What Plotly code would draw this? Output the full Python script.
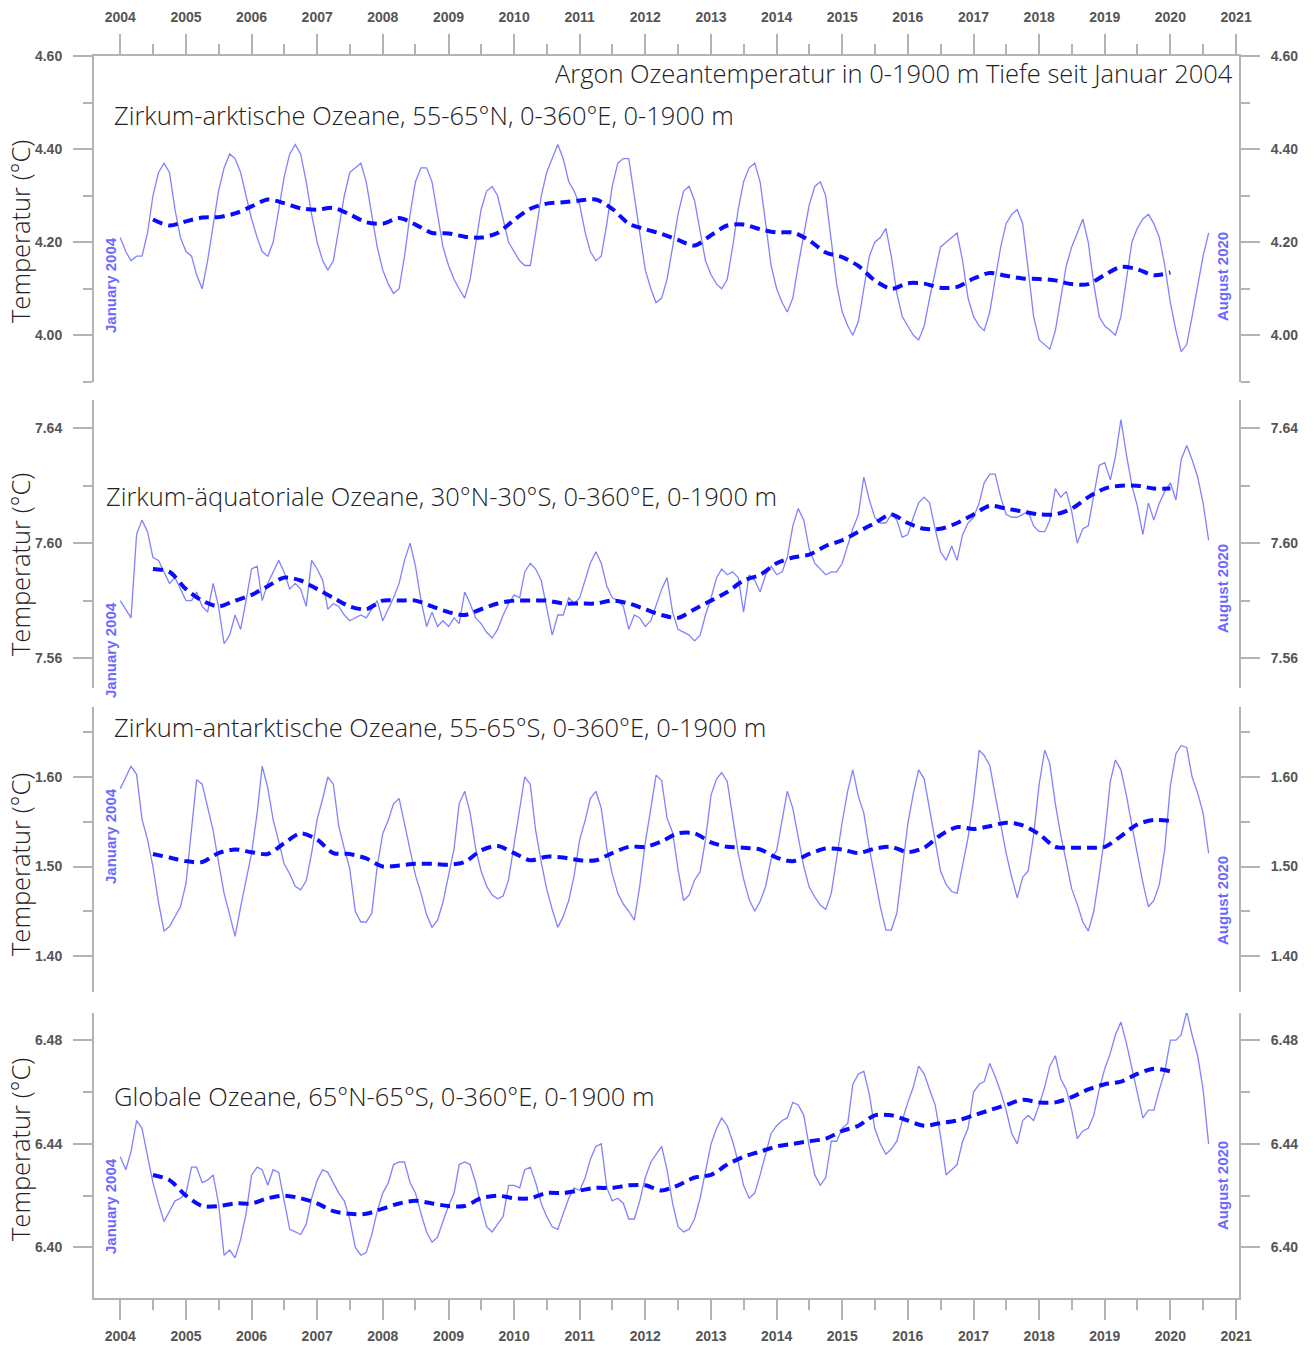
import pandas as pd
import plotly.graph_objects as go

# ---------------- data: monthly means Jan 2004 - Aug 2020 (°C) ----------------
arctic_monthly = [
    4.21, 4.18, 4.16, 4.17, 4.17, 4.22, 4.30, 4.35, 4.37, 4.35, 4.27, 4.21,
    4.18, 4.17, 4.13, 4.10, 4.16, 4.24, 4.31, 4.36, 4.39, 4.38, 4.35, 4.30,
    4.25, 4.21, 4.18, 4.17, 4.20, 4.27, 4.34, 4.39, 4.41, 4.39, 4.33, 4.26,
    4.20, 4.16, 4.14, 4.16, 4.23, 4.30, 4.35, 4.36, 4.37, 4.33, 4.26, 4.19,
    4.14, 4.11, 4.09, 4.10, 4.17, 4.26, 4.33, 4.36, 4.36, 4.33, 4.26, 4.19,
    4.15, 4.12, 4.10, 4.08, 4.12, 4.20, 4.27, 4.31, 4.32, 4.30, 4.25, 4.20,
    4.18, 4.16, 4.15, 4.15, 4.22, 4.30, 4.35, 4.38, 4.41, 4.38, 4.33, 4.31,
    4.28, 4.22, 4.18, 4.16, 4.17, 4.24, 4.32, 4.37, 4.38, 4.38, 4.30, 4.22,
    4.14, 4.10, 4.07, 4.08, 4.12, 4.19, 4.26, 4.31, 4.32, 4.29, 4.22, 4.16,
    4.13, 4.11, 4.10, 4.12, 4.19, 4.27, 4.33, 4.36, 4.37, 4.33, 4.24, 4.15,
    4.10, 4.07, 4.05, 4.08, 4.15, 4.22, 4.28, 4.32, 4.33, 4.30, 4.20, 4.11,
    4.05, 4.02, 4.00, 4.03, 4.10, 4.17, 4.20, 4.21, 4.23, 4.17, 4.09, 4.04,
    4.02, 4.00, 3.99, 4.02, 4.08, 4.14, 4.19, 4.20, 4.21, 4.22, 4.16, 4.08,
    4.04, 4.02, 4.01, 4.05, 4.12, 4.19, 4.24, 4.26, 4.27, 4.24, 4.14, 4.04,
    3.99, 3.98, 3.97, 4.01, 4.08, 4.15, 4.19, 4.22, 4.25, 4.20, 4.11, 4.04,
    4.02, 4.01, 4.00, 4.04, 4.12, 4.20, 4.23, 4.25, 4.26, 4.24, 4.21, 4.15,
    4.07, 4.01, 3.965, 3.98, 4.04, 4.11, 4.17, 4.22,
]

equatorial_monthly = [
    7.580, 7.577, 7.574, 7.603, 7.608, 7.604, 7.595, 7.594, 7.590, 7.586, 7.588, 7.584,
    7.580, 7.580, 7.583, 7.578, 7.576, 7.586, 7.578, 7.565, 7.568, 7.575, 7.570, 7.580,
    7.591, 7.592, 7.580, 7.586, 7.590, 7.594, 7.590, 7.584, 7.586, 7.584, 7.578, 7.594,
    7.591, 7.587, 7.577, 7.579, 7.578, 7.575, 7.573, 7.574, 7.575, 7.574, 7.577, 7.580,
    7.573, 7.577, 7.581, 7.586, 7.594, 7.600, 7.592, 7.580, 7.571, 7.576, 7.571, 7.573,
    7.571, 7.574, 7.572, 7.583, 7.579, 7.574, 7.572, 7.569, 7.567, 7.570, 7.575, 7.579,
    7.582, 7.581, 7.590, 7.593, 7.591, 7.587, 7.578, 7.568, 7.575, 7.575, 7.581, 7.579,
    7.581, 7.587, 7.593, 7.597, 7.593, 7.585, 7.581, 7.580, 7.578, 7.570, 7.575, 7.574,
    7.571, 7.573, 7.578, 7.584, 7.588, 7.576, 7.570, 7.569, 7.568, 7.566, 7.568, 7.575,
    7.581, 7.588, 7.591, 7.589, 7.590, 7.588, 7.576, 7.589, 7.587, 7.583, 7.589, 7.592,
    7.589, 7.590, 7.595, 7.606, 7.612, 7.608, 7.598, 7.593, 7.591, 7.589, 7.590, 7.590,
    7.593, 7.599, 7.605, 7.610, 7.623, 7.615, 7.609, 7.607, 7.607, 7.610, 7.608, 7.602,
    7.603, 7.609, 7.614, 7.616, 7.614, 7.605, 7.597, 7.594, 7.599, 7.594, 7.603, 7.607,
    7.609, 7.614, 7.621, 7.624, 7.624, 7.616, 7.610, 7.609, 7.609, 7.610, 7.611, 7.606,
    7.604, 7.604, 7.608, 7.619, 7.616, 7.618, 7.611, 7.600, 7.605, 7.606, 7.616, 7.627,
    7.628, 7.622, 7.630, 7.643, 7.631, 7.620, 7.613, 7.603, 7.614, 7.608, 7.614, 7.618,
    7.621, 7.615, 7.629, 7.634, 7.629, 7.623, 7.614, 7.601,
]

antarctic_monthly = [
    1.587, 1.600, 1.612, 1.603, 1.553, 1.530, 1.500, 1.460, 1.428, 1.433, 1.445, 1.455,
    1.481, 1.545, 1.597, 1.592, 1.565, 1.540, 1.505, 1.470, 1.446, 1.422, 1.455, 1.485,
    1.515, 1.560, 1.612, 1.588, 1.552, 1.528, 1.503, 1.492, 1.478, 1.474, 1.484, 1.515,
    1.553, 1.576, 1.600, 1.592, 1.545, 1.520, 1.498, 1.450, 1.438, 1.438, 1.448, 1.500,
    1.537, 1.552, 1.570, 1.576, 1.548, 1.518, 1.490, 1.470, 1.446, 1.432, 1.440, 1.460,
    1.490, 1.520, 1.570, 1.584, 1.560, 1.520, 1.495, 1.478, 1.468, 1.464, 1.467, 1.485,
    1.525, 1.567, 1.600, 1.592, 1.540, 1.505, 1.475, 1.452, 1.432, 1.444, 1.462, 1.490,
    1.530, 1.552, 1.576, 1.584, 1.565, 1.520, 1.492, 1.470, 1.458, 1.450, 1.440, 1.478,
    1.527, 1.565, 1.602, 1.596, 1.554, 1.538, 1.497, 1.462, 1.468, 1.485, 1.494, 1.530,
    1.580, 1.598, 1.605, 1.595, 1.555, 1.515, 1.486, 1.463, 1.450, 1.461, 1.478, 1.508,
    1.518, 1.551, 1.584, 1.565, 1.533, 1.500, 1.477, 1.466, 1.457, 1.452, 1.470, 1.510,
    1.550, 1.585, 1.608, 1.578, 1.560, 1.520, 1.490, 1.455, 1.429, 1.429, 1.448, 1.496,
    1.548, 1.582, 1.608, 1.598, 1.565, 1.530, 1.495, 1.480, 1.472, 1.470, 1.502, 1.532,
    1.575, 1.630, 1.624, 1.613, 1.580, 1.545, 1.515, 1.488, 1.465, 1.488, 1.495, 1.535,
    1.592, 1.630, 1.615, 1.570, 1.535, 1.505, 1.475, 1.458, 1.438, 1.428, 1.450, 1.490,
    1.535, 1.595, 1.619, 1.608, 1.580, 1.546, 1.514, 1.482, 1.455, 1.462, 1.480, 1.520,
    1.590, 1.626, 1.635, 1.633, 1.600, 1.582, 1.560, 1.515,
]

global_monthly = [
    6.435, 6.430, 6.437, 6.449, 6.446, 6.436, 6.425, 6.417, 6.410, 6.414, 6.418, 6.419,
    6.421, 6.431, 6.431, 6.425, 6.426, 6.428, 6.417, 6.397, 6.399, 6.396, 6.403, 6.413,
    6.428, 6.431, 6.430, 6.424, 6.430, 6.429, 6.418, 6.407, 6.406, 6.405, 6.409, 6.419,
    6.426, 6.430, 6.429, 6.425, 6.421, 6.418, 6.411, 6.400, 6.397, 6.398, 6.405, 6.414,
    6.421, 6.425, 6.432, 6.433, 6.433, 6.425, 6.421, 6.413, 6.406, 6.402, 6.404, 6.410,
    6.416, 6.421, 6.432, 6.433, 6.432, 6.425, 6.416, 6.408, 6.406, 6.409, 6.412, 6.424,
    6.424, 6.423, 6.430, 6.431, 6.425, 6.417, 6.412, 6.408, 6.407, 6.413, 6.419, 6.423,
    6.422, 6.427, 6.434, 6.439, 6.440, 6.423, 6.418, 6.419, 6.417, 6.411, 6.411, 6.418,
    6.427, 6.433, 6.436, 6.439, 6.430, 6.417, 6.408, 6.406, 6.407, 6.411, 6.419, 6.430,
    6.440, 6.446, 6.450, 6.447, 6.441, 6.433, 6.424, 6.419, 6.421, 6.428, 6.436, 6.444,
    6.447, 6.449, 6.450, 6.456, 6.455, 6.451, 6.439, 6.428, 6.424, 6.427, 6.441, 6.441,
    6.446, 6.448, 6.463, 6.467, 6.468, 6.459, 6.446, 6.440, 6.436, 6.438, 6.441, 6.449,
    6.456, 6.462, 6.470, 6.467, 6.461, 6.455, 6.443, 6.428, 6.430, 6.432, 6.441, 6.446,
    6.460, 6.463, 6.464, 6.471, 6.466, 6.460, 6.453, 6.444, 6.440, 6.449, 6.451, 6.449,
    6.455, 6.462, 6.470, 6.474, 6.465, 6.461, 6.453, 6.442, 6.445, 6.446, 6.451, 6.461,
    6.469, 6.475, 6.482, 6.487, 6.479, 6.469, 6.460, 6.450, 6.453, 6.453, 6.461, 6.468,
    6.480, 6.480, 6.482, 6.491, 6.482, 6.474, 6.461, 6.440,
]

# ---------------- data: 12-month running means, sampled quarterly Jul 2004 - Jan 2020 ----------------
arctic_trend = [
    4.249, 4.236, 4.245, 4.253, 4.254, 4.262, 4.277, 4.292, 4.284, 4.273, 4.270, 4.274,
    4.260, 4.243, 4.240, 4.252, 4.238, 4.220, 4.219, 4.212, 4.210, 4.220, 4.248, 4.272,
    4.283, 4.286, 4.290, 4.292, 4.272, 4.240, 4.228, 4.218, 4.205, 4.193, 4.215, 4.236,
    4.238, 4.228, 4.221, 4.221, 4.204, 4.178, 4.168, 4.149, 4.118, 4.100, 4.112, 4.111,
    4.102, 4.104, 4.122, 4.134, 4.128, 4.122, 4.121, 4.118, 4.110, 4.110, 4.130, 4.147,
    4.142, 4.129, 4.135,
]

equatorial_trend = [
    7.591, 7.590, 7.584, 7.580, 7.578, 7.580, 7.582, 7.585, 7.588, 7.587, 7.584, 7.581,
    7.578, 7.577, 7.580, 7.580, 7.580, 7.578, 7.576, 7.575, 7.577, 7.579, 7.580, 7.580,
    7.580, 7.579, 7.579, 7.579, 7.580, 7.579, 7.577, 7.575, 7.574, 7.577, 7.580, 7.583,
    7.587, 7.589, 7.593, 7.595, 7.596, 7.599, 7.601, 7.604, 7.607, 7.610, 7.607, 7.605,
    7.605, 7.607, 7.610, 7.613, 7.612, 7.611, 7.610, 7.610, 7.612, 7.616, 7.619, 7.620,
    7.620, 7.619, 7.619,
]

antarctic_trend = [
    1.514, 1.510, 1.506, 1.505, 1.515, 1.519, 1.516, 1.514, 1.526, 1.537, 1.530, 1.515,
    1.514, 1.509, 1.500, 1.501, 1.503, 1.503, 1.502, 1.505, 1.518, 1.523, 1.515, 1.507,
    1.511, 1.510, 1.507, 1.507, 1.515, 1.522, 1.522, 1.528, 1.537, 1.537, 1.527, 1.522,
    1.521, 1.519, 1.510, 1.506, 1.514, 1.520, 1.519, 1.515, 1.520, 1.522, 1.516, 1.521,
    1.535, 1.544, 1.542, 1.545, 1.549, 1.546, 1.536, 1.522, 1.521, 1.521, 1.522, 1.534,
    1.547, 1.552, 1.551,
]

global_trend = [
    6.428, 6.426, 6.420, 6.416, 6.416, 6.417, 6.417, 6.419, 6.420, 6.419, 6.417, 6.414,
    6.413, 6.413, 6.415, 6.417, 6.418, 6.417, 6.416, 6.416, 6.419, 6.420, 6.419, 6.419,
    6.421, 6.421, 6.422, 6.423, 6.423, 6.424, 6.424, 6.422, 6.424, 6.427, 6.428, 6.432,
    6.435, 6.437, 6.439, 6.440, 6.441, 6.442, 6.445, 6.447, 6.451, 6.451, 6.449, 6.447,
    6.448, 6.449, 6.451, 6.453, 6.455, 6.457, 6.456, 6.456, 6.458, 6.461, 6.463, 6.464,
    6.467, 6.469, 6.468,
]

panel_titles = [
    "Zirkum-arktische Ozeane, 55-65°N, 0-360°E, 0-1900 m",
    "Zirkum-äquatoriale Ozeane, 30°N-30°S, 0-360°E, 0-1900 m",
    "Zirkum-antarktische Ozeane, 55-65°S, 0-360°E, 0-1900 m",
    "Globale Ozeane, 65°N-65°S, 0-360°E, 0-1900 m",
]
main_title = "Argon Ozeantemperatur in 0-1900 m Tiefe seit Januar 2004"
y_title = "Temperatur (°C)"
start_label = "January 2004"
end_label = "August 2020"

monthly_dates = pd.date_range("2004-01-01", periods=len(arctic_monthly), freq="MS")
trend_dates = pd.date_range("2004-07-01", periods=len(arctic_trend), freq="3MS")

# ---------------- layout geometry (pixels) ----------------
W, H = 1315, 1345
ML, MR, MT, MB = 94, 76, 56, 47
PW, PH = W - ML - MR, H - MT - MB


def px(x):
    return (x - ML) / PW


def py(y):
    return (H - MB - y) / PH


panel_px = [(56, 382), (400, 688), (707, 992), (1013, 1298)]
y_ranges = [[3.8995, 4.6005], [7.5496, 7.6498], [1.3598, 1.6782], [6.3805, 6.4905]]
y_tick0 = [4.0, 7.56, 1.4, 6.40]
y_dtick = [0.2, 0.04, 0.1, 0.04]
y_minor = [0.1, 0.02, 0.05, 0.02]

AXIS_GREY = "#b3b3b3"
TICK_FONT = dict(family="Arial", size=14, color="#555555", weight="bold")
LINE_COLOR = "#8282ff"
TREND_COLOR = "#0a0aff"
LABEL_BLUE = "#6a6aff"

monthly_series = [arctic_monthly, equatorial_monthly, antarctic_monthly, global_monthly]
trend_series = [arctic_trend, equatorial_trend, antarctic_trend, global_trend]

fig = go.Figure()

for i in range(4):
    left_axis = "y" if i == 0 else f"y{i + 1}"
    right_axis = f"y{i + 5}"
    fig.add_trace(go.Scatter(
        x=monthly_dates, y=monthly_series[i], mode="lines",
        line=dict(color=LINE_COLOR, width=1.3),
        xaxis="x", yaxis=left_axis, hoverinfo="skip",
    ))
    fig.add_trace(go.Scatter(
        x=trend_dates, y=trend_series[i], mode="lines",
        line=dict(color=TREND_COLOR, width=4, dash="10px,6px", shape="spline", smoothing=0.8),
        xaxis="x2" if i == 0 else "x", yaxis=right_axis, hoverinfo="skip",
    ))

x_range = ["2003-08-08", "2021-01-17"]
x_common = dict(
    range=x_range, type="date", showgrid=False, zeroline=False, automargin=False,
    showline=True, linecolor=AXIS_GREY, linewidth=2,
    ticks="outside", ticklen=20, tickwidth=2, tickcolor=AXIS_GREY,
    dtick="M12", tick0="2004-01-01", tickformat="%Y",
    minor=dict(ticks="outside", ticklen=10, tickwidth=2, tickcolor=AXIS_GREY,
               dtick="M6", tick0="2004-01-01", showgrid=False),
    tickfont=TICK_FONT,
)

layout = dict(
    width=W, height=H,
    margin=dict(l=ML, r=MR, t=MT, b=MB, autoexpand=False),
    paper_bgcolor="white", plot_bgcolor="white",
    showlegend=False,
    xaxis=dict(domain=[0, 1], anchor="y4", side="bottom", ticklabelstandoff=4, **x_common),
    xaxis2=dict(overlaying="x", anchor="y5", side="top", ticklabelstandoff=6, **x_common),
)

for i in range(4):
    top, bottom = panel_px[i]
    y_common = dict(
        range=y_ranges[i], showgrid=False, zeroline=False, automargin=False,
        showline=True, linecolor=AXIS_GREY, linewidth=2,
        ticks="outside", ticklen=19, tickwidth=2, tickcolor=AXIS_GREY,
        tick0=y_tick0[i], dtick=y_dtick[i], tickformat=".2f",
        minor=dict(ticks="outside", ticklen=9, tickwidth=2, tickcolor=AXIS_GREY,
                   tick0=y_tick0[i], dtick=y_minor[i], showgrid=False),
        tickfont=TICK_FONT, ticklabelstandoff=8,
    )
    left_name = "yaxis" if i == 0 else f"yaxis{i + 1}"
    left_ref = "y" if i == 0 else f"y{i + 1}"
    layout[left_name] = dict(domain=[py(bottom), py(top)], anchor="x", side="left", **y_common)
    layout[f"yaxis{i + 5}"] = dict(overlaying=left_ref, anchor="x2" if i == 0 else "x",
                                   side="right", **y_common)

fig.update_layout(**layout)

# ---------------- texts ----------------
light_font = dict(family="Open Sans", size=25.5, color="#222222", weight=300)
label_font = dict(family="Arial", size=15, color=LABEL_BLUE, weight="bold")

annotations = [dict(
    text=main_title, x=px(1235), y=py(73), xref="paper", yref="paper",
    xanchor="right", yanchor="middle", showarrow=False, font=light_font,
)]

title_x = [112, 104, 112, 112]
title_y = [115, 496, 727, 1096]
ytitle_y = [232, 565, 865, 1150]
start_y = [285, 650, 836, 1206]
end_y = [277, 589, 901, 1186]

for i in range(4):
    annotations.append(dict(
        text=panel_titles[i], x=px(title_x[i]), y=py(title_y[i]), xref="paper", yref="paper",
        xanchor="left", yanchor="middle", showarrow=False, font=light_font,
    ))
    annotations.append(dict(
        text=y_title, x=px(20), y=py(ytitle_y[i]), xref="paper", yref="paper",
        xanchor="center", yanchor="middle", textangle=-90, showarrow=False, font=light_font,
    ))
    annotations.append(dict(
        text=start_label, x=px(110), y=py(start_y[i]), xref="paper", yref="paper",
        xanchor="center", yanchor="middle", textangle=-90, showarrow=False, font=label_font,
    ))
    annotations.append(dict(
        text=end_label, x=px(1222), y=py(end_y[i]), xref="paper", yref="paper",
        xanchor="center", yanchor="middle", textangle=-90, showarrow=False, font=label_font,
    ))

fig.update_layout(annotations=annotations)

fig.write_html("out.html")
